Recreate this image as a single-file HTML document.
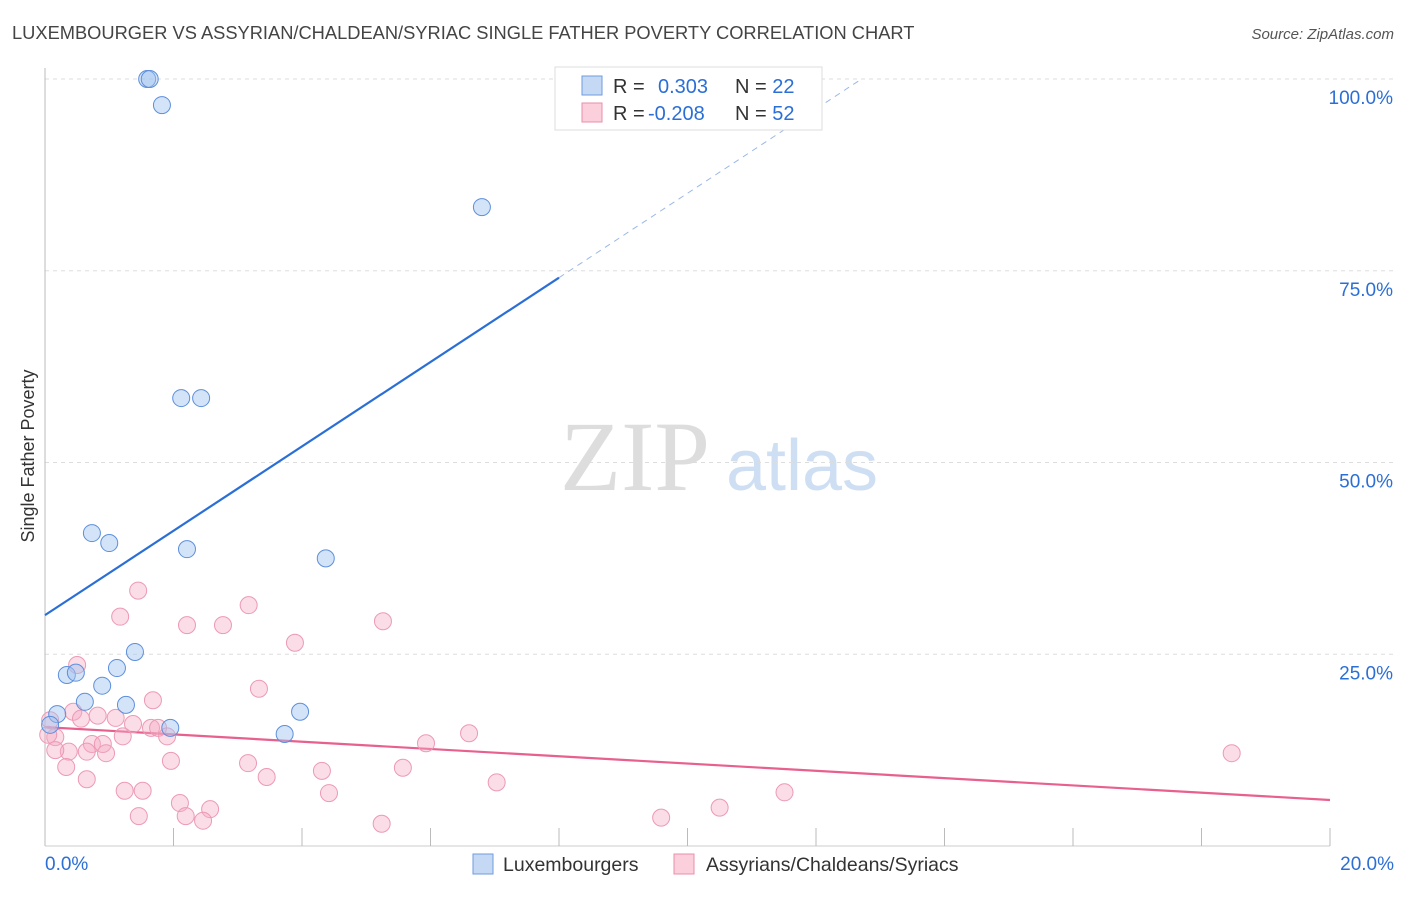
<!DOCTYPE html>
<html><head><meta charset="utf-8"><style>
body{margin:0;background:#fff;font-family:"Liberation Sans",sans-serif;}
svg text{font-family:"Liberation Sans",sans-serif;}
svg text.serif{font-family:"Liberation Serif",serif;}
</style></head><body>
<svg id="chart" width="1406" height="892" xmlns="http://www.w3.org/2000/svg">
<text x="12" y="39" font-size="18.3" fill="#444">LUXEMBOURGER VS ASSYRIAN/CHALDEAN/SYRIAC SINGLE FATHER POVERTY CORRELATION CHART</text>
<text x="1394" y="39" font-size="15" fill="#555" text-anchor="end" font-style="italic">Source: ZipAtlas.com</text>
<text transform="translate(34,456) rotate(-90)" font-size="18" fill="#333" text-anchor="middle">Single Father Poverty</text>
<g>
<text class="serif" x="635" y="490" font-size="100" fill="#ddd" text-anchor="middle">ZIP</text>
<text x="802" y="490" font-size="72" fill="#cfdff3" text-anchor="middle">atlas</text>
</g>
<g id="grid"></g><g id="axes"></g><g id="trends"></g><g id="pts"></g>
<g>
<rect x="555" y="67" width="267" height="63" fill="#fff" stroke="#ddd"/>
<rect x="582" y="76" width="20" height="19" fill="#c5d9f5" stroke="#6f9be0"/>
<rect x="582" y="103" width="20" height="19" fill="#fbcfdc" stroke="#ea8fab"/>
<text x="613" y="93" font-size="20" fill="#333">R = <tspan fill="#2b6fd6" x="658">0.303</tspan><tspan x="735" fill="#333">N = </tspan><tspan fill="#2b6fd6">22</tspan></text>
<text x="613" y="120" font-size="20" fill="#333">R = <tspan fill="#2b6fd6" x="648">-0.208</tspan><tspan x="735" fill="#333">N = </tspan><tspan fill="#2b6fd6">52</tspan></text>
</g>
<g>
<rect x="473" y="854" width="20" height="20" fill="#c5d9f5" stroke="#6f9be0"/>
<text x="503" y="871" font-size="19.5" fill="#333">Luxembourgers</text>
<rect x="674" y="854" width="20" height="20" fill="#fbcfdc" stroke="#ea8fab"/>
<text x="706" y="871" font-size="19.5" fill="#333">Assyrians/Chaldeans/Syriacs</text>
</g>
</svg>
<script>
const blueX=[1.59,1.63,1.82,6.80,2.12,2.43,0.73,1.00,2.21,4.37,1.40,1.12,0.34,0.48,0.89,0.62,1.26,0.19,1.95,3.97,3.73,0.08];
const blueY=[100,100,96.6,83.3,58.4,58.4,40.8,39.5,38.7,37.5,25.3,23.2,22.3,22.6,20.9,18.8,18.4,17.2,15.4,17.5,14.6,15.8];
const pinkX=[1.45,1.17,2.21,2.77,3.17,5.26,3.89,0.50,3.33,1.68,0.44,0.56,0.82,1.10,1.37,1.65,1.76,1.90,1.21,0.16,0.73,0.90,0.65,0.95,0.37,0.16,0.33,1.96,0.65,3.16,3.45,4.31,4.42,5.57,5.93,1.24,1.52,2.10,2.57,1.46,2.19,2.46,5.24,6.60,7.03,9.59,10.50,11.51,18.47,0.08,0.05];
const pinkY=[33.3,29.9,28.8,28.8,31.4,29.3,26.5,23.6,20.5,19.0,17.5,16.6,17.0,16.7,15.9,15.4,15.4,14.3,14.3,14.2,13.3,13.3,12.3,12.1,12.3,12.5,10.3,11.1,8.7,10.8,9.0,9.8,6.9,10.2,13.4,7.2,7.2,5.6,4.8,3.9,3.9,3.3,2.9,14.7,8.3,3.7,5.0,7.0,12.1,16.4,14.5];
const yTicks=[25,50,75,100];
const xTickLabels=["0.0%","20.0%"];
const blueTrend=[30.1,5.5];
const pinkTrend=[15.5,-0.475];
const NS="http://www.w3.org/2000/svg";
const X=v=>45+v/20*1285, Y=v=>846-v/100*767;
function mk(t,a,p){const e=document.createElementNS(NS,t);for(const k in a)e.setAttribute(k,a[k]);document.getElementById(p).appendChild(e);return e;}
yTicks.forEach(t=>{
 const l=mk('line',{x1:45,x2:1394,y1:Y(t),y2:Y(t),stroke:'#ddd','stroke-dasharray':'4,4'},'grid');
 
 
 const tx=mk('text',{x:1393,y:Y(t)+25,'font-size':19,fill:'#2b6fd6','text-anchor':'end'},'grid');tx.textContent=t.toFixed(1)+'%';
 
 
});
let a=mk('line',{x1:45,x2:45,y1:68,y2:846,stroke:'#bbb'},'axes');


a=mk('line',{x1:45,x2:1330,y1:846,y2:846,stroke:'#ccc'},'axes');


for(let i=1;i<=10;i++){const t=mk('line',{x1:X(i*2),x2:X(i*2),y1:828,y2:846,stroke:'#bbb'},'axes');
 
 }
[[0,'start',45],[20,'end',1394]].forEach((d,i)=>{const t=mk('text',{x:d[2],y:870,'font-size':19,fill:'#2b6fd6','text-anchor':d[1]},'axes');t.textContent=xTickLabels[i];
 
 });
let tl=mk('line',{x1:X(0),y1:Y(blueTrend[0]),x2:X(8),y2:Y(blueTrend[0]+8*blueTrend[1]),stroke:'#2b6fd6','stroke-width':2.2},'trends');


const xe=(100-blueTrend[0])/blueTrend[1];
tl=mk('line',{x1:X(8),y1:Y(blueTrend[0]+8*blueTrend[1]),x2:X(xe),y2:Y(100),stroke:'#9bb8e6','stroke-width':1,'stroke-dasharray':'6,5'},'trends');


tl=mk('line',{x1:X(0),y1:Y(pinkTrend[0]),x2:X(20),y2:Y(pinkTrend[0]+20*pinkTrend[1]),stroke:'#e8608d','stroke-width':2.2},'trends');


pinkX.forEach((x,i)=>{const c=mk('circle',{cx:X(x),cy:Y(pinkY[i]),r:8.5,fill:'rgba(245,170,195,0.4)',stroke:'#ec9ab4','stroke-width':1},'pts');
 
 });
blueX.forEach((x,i)=>{const c=mk('circle',{cx:X(x),cy:Y(blueY[i]),r:8.5,fill:'rgba(160,195,240,0.45)',stroke:'#5d8fdc','stroke-width':1},'pts');
 
 });
</script>
</body></html>
